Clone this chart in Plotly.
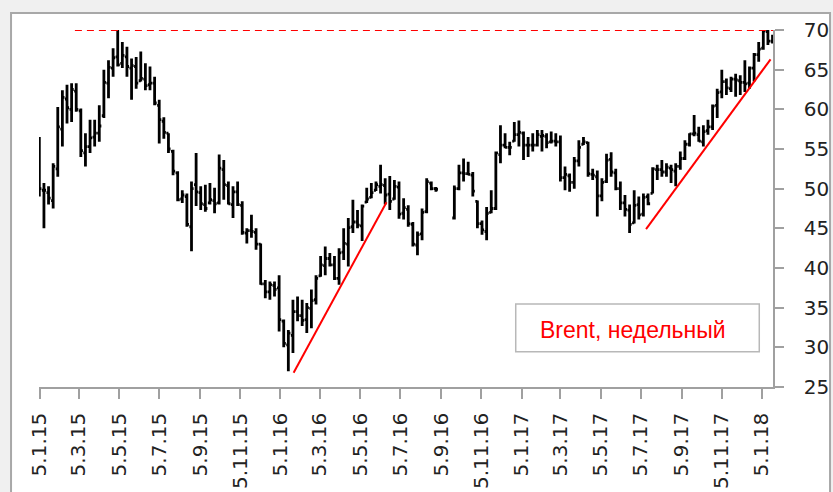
import plotly.graph_objects as go
import pandas as pd

# Weekly Brent OHLC bars (weeks starting 2015-01-04), None = missing weeks
open_ = [56.0, 49.8, 49.5, 48.5, 52.5, 57.5, 61.3, 60.0, 62.3, 59.8,
         54.5, 55.3, 56.5, 57.0, 59.2, 63.3, 65.2, 66.6, 65.8, 66.6,
         65.2, 65.4, 63.6, 63.8, 63.1, 63.3, 60.5, 58.5, 57.0, 54.7,
         52.0, 48.7, 49.0, 45.2, 50.5, 49.5, 48.0, 48.2, 48.5, 48.2,
         52.4, 50.4, 48.0, 49.6, 47.9, 44.4, 44.7, 44.5, 43.0, 38.0,
         37.0, 37.8, 37.5, 33.3, 30.3, 31.5, 34.5, 34.0, 33.5, 34.9,
         36.0, 39.0, 40.3, 41.2, 40.4, 38.7, 42.0, 43.0, 45.2, 45.8,
         45.3, 48.3, 48.9, 49.8, 50.3, 50.4, 49.3, 48.7, 50.2, 46.9,
         47.4, 45.5, 42.9, 44.3, 47.1, 50.7, 50.0, None, None, None,
         46.3, 50.0, 52.0, 51.9, 51.7, 48.4, 45.6, 44.6, 47.0, 47.5,
         54.3, 55.5, 55.2, 56.0, 56.8, 57.0, 55.5, 55.5, 55.5, 56.6,
         56.6, 55.9, 56.0, 55.9, 51.4, 51.6, 50.8, 53.5, 55.6, 55.8,
         51.8, 51.5, 49.1, 50.9, 53.7, 52.0, 50.0, 48.2, 47.3, 45.7,
         48.0, 46.8, 49.0, 49.4, 52.4, 52.4, 52.1, 52.6, 52.2, 52.8,
         53.8, 55.6, 56.9, 56.8, 55.9, 57.3, 57.8, 60.5, 62.2, 63.5,
         62.6, 63.8, 63.6, 63.4, 63.3, 65.2, 66.9, 67.7, 69.8, 68.6]
high = [56.5, 50.7, 50.3, 53.2, 60.3, 62.4, 63.1, 63.3, 63.3, 60.1,
        57.0, 58.7, 58.7, 60.5, 65.0, 66.2, 67.7, 70.0, 68.5, 67.9,
        66.4, 66.6, 67.3, 65.8, 65.4, 64.1, 61.2, 59.0, 57.0, 54.9,
        52.2, 49.8, 49.4, 50.9, 54.5, 50.3, 50.5, 50.7, 50.1, 54.3,
        53.6, 50.9, 50.3, 50.9, 48.4, 45.0, 46.7, 45.0, 43.1, 38.5,
        38.3, 38.3, 39.1, 33.5, 32.2, 36.0, 36.4, 36.0, 35.6, 37.3,
        39.1, 41.5, 42.7, 41.9, 41.5, 42.5, 45.0, 46.3, 48.6, 47.3,
        48.0, 50.1, 50.7, 50.9, 53.0, 51.3, 51.6, 51.1, 50.9, 48.8,
        47.9, 45.8, 44.6, 47.5, 51.3, 50.9, 50.2, None, None, None,
        50.4, 53.0, 53.8, 53.4, 52.1, 48.5, 46.0, 47.7, 49.8, 54.7,
        58.0, 57.0, 55.9, 58.4, 58.6, 57.2, 56.5, 57.0, 57.4, 57.4,
        57.0, 57.2, 57.0, 56.7, 52.8, 51.9, 54.0, 56.1, 56.5, 55.9,
        52.5, 52.3, 51.3, 54.4, 54.6, 52.5, 50.9, 49.2, 48.0, 49.8,
        49.0, 49.4, 49.4, 52.7, 53.0, 53.6, 53.2, 53.0, 53.2, 54.7,
        56.1, 57.0, 59.3, 57.8, 58.0, 58.7, 60.6, 62.6, 65.0, 63.9,
        64.1, 64.5, 64.3, 66.2, 65.4, 67.1, 68.5, 70.1, 70.0, 69.4]
low = [49.0, 45.0, 48.0, 47.5, 51.5, 55.3, 58.2, 58.4, 59.7, 54.0,
       52.8, 54.5, 55.3, 55.9, 58.9, 61.4, 64.1, 65.4, 65.2, 64.1,
       61.2, 62.6, 63.5, 62.4, 62.4, 60.5, 55.7, 56.3, 54.5, 51.7,
       48.4, 48.2, 45.2, 42.1, 47.8, 47.3, 47.1, 48.0, 46.9, 48.0,
       48.6, 48.0, 46.3, 47.8, 44.2, 43.1, 43.8, 42.3, 37.9, 36.2,
       36.0, 36.4, 32.0, 30.0, 27.0, 29.3, 33.3, 32.7, 31.8, 32.4,
       35.4, 38.9, 39.1, 40.2, 38.5, 37.9, 41.0, 40.2, 44.4, 45.0,
       43.4, 48.2, 48.8, 49.7, 49.4, 48.0, 47.3, 48.6, 46.2, 46.1,
       45.2, 42.7, 41.6, 43.5, 46.9, 49.8, 49.6, None, None, None,
       46.1, 49.8, 50.9, 51.7, 49.0, 45.0, 44.2, 43.5, 46.9, 47.3,
       53.2, 55.1, 54.2, 55.9, 55.3, 53.6, 54.0, 54.7, 55.3, 54.7,
       55.1, 55.7, 55.3, 50.9, 49.8, 49.6, 50.0, 52.8, 55.5, 51.5,
       51.1, 46.5, 48.4, 50.7, 51.5, 49.8, 47.3, 46.5, 44.4, 45.6,
       46.1, 46.5, 47.9, 49.4, 51.1, 51.5, 51.5, 50.7, 50.3, 52.4,
       53.6, 55.3, 56.6, 55.9, 55.3, 56.8, 57.4, 58.9, 61.4, 61.8,
       62.2, 61.6, 61.8, 62.2, 62.6, 63.5, 66.0, 67.5, 68.1, 68.3]
close = [50.0, 49.8, 48.8, 52.8, 57.8, 61.5, 60.2, 62.5, 60.0, 54.8,
         55.3, 56.4, 57.0, 57.9, 63.4, 65.3, 66.5, 65.6, 66.8, 65.4,
         65.5, 63.3, 63.9, 63.0, 63.3, 60.8, 58.7, 57.1, 55.0, 52.2,
         48.6, 49.2, 45.5, 50.0, 49.6, 48.1, 47.5, 48.6, 48.1, 52.6,
         50.5, 48.1, 49.6, 48.0, 44.5, 44.7, 44.6, 43.0, 38.0, 37.0,
         37.9, 37.3, 33.5, 30.5, 31.8, 34.5, 34.0, 33.4, 35.0, 35.9,
         38.7, 40.4, 41.2, 40.4, 38.7, 41.9, 43.1, 45.1, 45.8, 45.4,
         47.8, 48.7, 49.5, 50.5, 50.5, 49.2, 48.4, 50.3, 46.8, 47.6,
         45.6, 43.0, 44.2, 47.0, 50.9, 50.0, 49.9, None, None, None,
         50.0, 52.0, 51.9, 51.8, 49.7, 45.6, 44.8, 46.9, 47.5, 54.5,
         55.5, 55.2, 55.2, 56.8, 57.1, 55.5, 55.5, 55.5, 56.8, 56.7,
         55.8, 56.0, 55.9, 51.4, 51.8, 50.8, 53.5, 55.2, 55.9, 51.9,
         51.7, 49.1, 50.8, 53.6, 52.1, 50.0, 48.2, 47.4, 45.5, 47.9,
         46.7, 48.9, 48.1, 52.5, 52.4, 52.1, 52.7, 52.4, 52.8, 53.8,
         55.6, 56.9, 57.0, 56.0, 57.2, 57.8, 60.4, 62.1, 63.5, 62.7,
         63.8, 63.7, 63.4, 63.2, 65.2, 66.9, 67.6, 69.9, 68.6, 69.0]

weeks = pd.date_range("2015-01-04", periods=len(close), freq="7D")

tick_dates = ["2015-01-05", "2015-03-05", "2015-05-05", "2015-07-05", "2015-09-05",
              "2015-11-05", "2016-01-05", "2016-03-05", "2016-05-05", "2016-07-05",
              "2016-09-05", "2016-11-05", "2017-01-05", "2017-03-05", "2017-05-05",
              "2017-07-05", "2017-09-05", "2017-11-05", "2018-01-05"]
tick_labels = ["5.1.15", "5.3.15", "5.5.15", "5.7.15", "5.9.15", "5.11.15",
               "5.1.16", "5.3.16", "5.5.16", "5.7.16", "5.9.16", "5.11.16",
               "5.1.17", "5.3.17", "5.5.17", "5.7.17", "5.9.17", "5.11.17", "5.1.18"]
y_ticks = [25, 30, 35, 40, 45, 50, 55, 60, 65, 70]

# annotation lines (resistance and trend lines)
resist_x = ["2015-02-27", "2018-01-21 17:00"]
resist_y = 70
trend1_x = ["2016-01-25", "2016-06-14"]
trend1_y = [26.8, 48.3]
trend2_x = ["2017-07-13", "2018-01-18"]
trend2_y = [44.9, 66.3]

fig = go.Figure(go.Ohlc(
    x=weeks, open=open_, high=high, low=low, close=close,
    increasing=dict(line=dict(color="black", width=2.8)),
    decreasing=dict(line=dict(color="black", width=2.8)),
    tickwidth=0.45,
))

axis_font = dict(family="DejaVu Sans", size=20, color="#222222")
fig.update_layout(
    width=833, height=492,
    margin=dict(l=39, r=60, t=30, b=105, pad=0),
    paper_bgcolor="#f0f0f0", plot_bgcolor="white",
    showlegend=False,
    xaxis=dict(
        type="date", range=["2015-01-03 12:00", "2018-01-21 17:00"],
        rangeslider=dict(visible=False), automargin=False,
        tickmode="array", tickvals=tick_dates, ticktext=tick_labels,
        tickangle=-90, tickfont=axis_font,
        showgrid=False, zeroline=False,
        showline=True, linecolor="#a0a0a0", linewidth=1.5,
        ticks="outside", ticklen=10, tickcolor="#a0a0a0", tickwidth=1.5,
        ticklabelstandoff=6,
    ),
    yaxis=dict(
        side="right", range=[25, 70], automargin=False,
        tickmode="array", tickvals=y_ticks,
        tickfont=axis_font,
        showgrid=False, zeroline=False,
        showline=True, linecolor="#a0a0a0", linewidth=1.5,
        ticks="outside", ticklen=9, tickcolor="#a0a0a0", tickwidth=1.5,
        ticklabelstandoff=16,
    ),
    shapes=[
        # outer frame
        dict(type="rect", xref="paper", yref="paper",
             x0=-0.0381, x1=1.0777, y0=-0.4, y1=1.0476,
             fillcolor="white", line=dict(color="#a8a8a8", width=2), layer="below"),
        # resistance dashed line
        dict(type="line", xref="x", yref="y",
             x0=resist_x[0], x1=resist_x[1], y0=resist_y, y1=resist_y,
             line=dict(color="red", width=2, dash="7px,5px")),
        dict(type="line", xref="x", yref="y",
             x0=trend1_x[0], x1=trend1_x[1], y0=trend1_y[0], y1=trend1_y[1],
             line=dict(color="red", width=2)),
        dict(type="line", xref="x", yref="y",
             x0=trend2_x[0], x1=trend2_x[1], y0=trend2_y[0], y1=trend2_y[1],
             line=dict(color="red", width=2)),
        # label box
        dict(type="rect", xref="paper", yref="paper",
             x0=0.6495, x1=0.9813, y0=0.0989, y1=0.2325,
             fillcolor="white", line=dict(color="#b8b8b8", width=1.5)),
    ],
    annotations=[
        dict(text="Brent, недельный", xref="paper", yref="paper",
             x=0.809, y=0.161, xanchor="center", yanchor="middle",
             showarrow=False,
             font=dict(family="Liberation Sans", size=23, color="red")),
    ],
)

fig.write_html(
    "out.html",
    config={"displayModeBar": False},
    post_script="document.body.style.margin='0';document.body.style.overflow='hidden';",
)
